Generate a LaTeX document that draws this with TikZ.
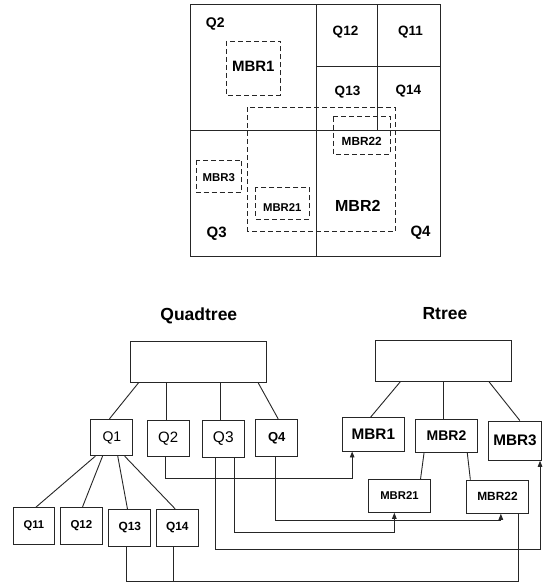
\documentclass[tikz,border=0pt]{standalone}
\usepackage{fontspec}
\setmainfont{Liberation Sans}
\usetikzlibrary{arrows.meta}
\begin{document}
\begin{tikzpicture}[x=1pt,y=-1pt,
  ln/.style={draw=black!85, line width=0.9pt},
  box/.style={ln, rectangle, inner sep=0pt, align=center},
  dbox/.style={draw=black!85, line width=0.9pt, dash pattern=on 5pt off 3pt},
  fb/.style={font=\bfseries\fontsize{#1}{#1}\selectfont},
  fr/.style={font=\fontsize{#1}{#1}\selectfont},
  txt/.style={inner sep=0pt},
  arr/.style={ln, -{Triangle[length=6pt,width=4.5pt]}},
]
\fill[white] (0,0) rectangle (542,585);
\useasboundingbox (0,0) rectangle (542,585);

% ---------- spatial plan ----------
\draw[ln] (190.7,4.7) rectangle (440,256.7);
\draw[ln] (316,4.7) -- (316,256.7);
\draw[ln] (190.7,130.5) -- (440,130.5);
\draw[ln] (377.7,4.7) -- (377.7,130.5);
\draw[ln] (316,66.7) -- (440,66.7);

\draw[dbox] (226,41) rectangle (280.3,95);
\draw[dbox] (247.7,107.3) rectangle (395.7,231);
\draw[dbox] (333.3,116.7) rectangle (390.3,154);
\draw[dbox] (196,160) rectangle (241.7,192.3);
\draw[dbox] (255.7,187.3) rectangle (309.3,219);

\node[txt, fb=14] (pq2) at (215.3,24.3) {Q2};
\node[txt, fb=15] (pmbr1) at (253.3,66) {MBR1};
\node[txt, fb=13.5] (pq12) at (345.5,32) {Q12};
\node[txt, fb=13.5] (pq11) at (410.5,32.3) {Q11};
\node[txt, fb=13.5] (pq13) at (347.5,92) {Q13};
\node[txt, fb=13.5] (pq14) at (408.3,90.7) {Q14};
\node[txt, fb=11.8] (pmbr22) at (361.7,141.7) {MBR22};
\node[txt, fb=11.4] (pmbr3) at (218.8,177.3) {MBR3};
\node[txt, fb=11.3] (pmbr21) at (282.3,207.3) {MBR21};
\node[txt, fb=15] (pq3) at (216.7,233.3) {Q3};
\node[txt, fb=16] (pmbr2) at (357.8,205.7) {MBR2};
\node[txt, fb=15] (pq4) at (420.5,232.3) {Q4};

% ---------- titles ----------
\node[txt, fb=17.5] (tq) at (198.8,316) {Quadtree};
\node[txt, fb=17.5] (tr) at (444.9,313.3) {Rtree};

% ---------- tree nodes ----------
\node[box, minimum width=135.9pt, minimum height=40.6pt] (qroot) at (198.25,362) {};
\node[box, minimum width=135.9pt, minimum height=40.3pt] (rroot) at (443.35,360.85) {};

\node[box, minimum width=41.9pt, minimum height=36.4pt, fr=14] (q1) at (111.85,437.5) {Q1};
\node[box, minimum width=41.8pt, minimum height=36.7pt, fr=15] (q2) at (168.2,438.35) {Q2};
\node[box, minimum width=42.2pt, minimum height=37pt, fr=15.5] (q3) at (223.3,438.8) {Q3};
\node[box, minimum width=41.8pt, minimum height=37pt, fb=13] (q4) at (276.7,437.8) {Q4};

\node[box, minimum width=62.3pt, minimum height=33.3pt, fb=15.3] (mbr1) at (373.35,434.35) {MBR1};
\node[box, minimum width=62.6pt, minimum height=33pt, fb=14] (mbr2) at (446.5,435.8) {MBR2};
\node[box, minimum width=53pt, minimum height=39.3pt, fb=15.3] (mbr3) at (515,440.65) {MBR3};

\node[box, minimum width=61.9pt, minimum height=33pt, fb=11.3] (mbr21) at (399.45,495.8) {MBR21};
\node[box, minimum width=61.5pt, minimum height=33.3pt, fb=11.9] (mbr22) at (497.45,496.65) {MBR22};

\node[box, minimum width=41.5pt, minimum height=36.6pt, fb=11.2] (q11) at (33.85,526) {Q11};
\node[box, minimum width=41.8pt, minimum height=37pt, fb=11.5] (q12) at (81.4,525.8) {Q12};
\node[box, minimum width=41.8pt, minimum height=36.7pt, fb=11.9] (q13) at (129.8,527.65) {Q13};
\node[box, minimum width=42.1pt, minimum height=36.7pt, fb=11.9] (q14) at (177.35,527.65) {Q14};

% ---------- tree edges ----------
\draw[ln] ([xshift=8.7pt]qroot.south west) -- ([xshift=19pt]q1.north west);
\draw[ln] ([xshift=37pt]qroot.south west) -- ([xshift=20pt]q2.north west);
\draw[ln] ([xshift=90.9pt]qroot.south west) -- ([xshift=19pt]q3.north west);
\draw[ln] ([xshift=128.3pt]qroot.south west) -- ([xshift=22.8pt]q4.north west);

\draw[ln] ([xshift=25.6pt]rroot.south west) -- ([xshift=28.8pt]mbr1.north west);
\draw[ln] ([xshift=68.5pt]rroot.south west) -- ([xshift=28.7pt]mbr2.north west);
\draw[ln] ([xshift=113.8pt]rroot.south west) -- ([xshift=31.8pt]mbr3.north west);

\draw[ln] ([xshift=9.3pt]mbr2.south west) -- ([xshift=52.5pt]mbr21.north west);
\draw[ln] ([xshift=52.5pt]mbr2.south west) -- ([xshift=4.1pt]mbr22.north west);

\draw[ln] ([xshift=4.9pt]q1.south west) -- ([xshift=23.2pt]q11.north west);
\draw[ln] ([xshift=12.1pt]q1.south west) -- ([xshift=22.5pt]q12.north west);
\draw[ln] ([xshift=27.3pt]q1.south west) -- ([xshift=19pt]q13.north west);
\draw[ln] ([xshift=34.2pt]q1.south west) -- ([xshift=19.3pt]q14.north west);

% ---------- cross connectors ----------
\draw[arr] ([xshift=18.6pt]q2.south west) -- ++(0,21) -| ([xshift=10.4pt]mbr1.south west);
\draw[arr] ([xshift=20.1pt]q4.south west) -- ++(0,64) -| ([xshift=34.6pt]mbr22.south west);
\draw[arr] ([xshift=32.2pt]q3.south west) -- ++(0,75) -| ([xshift=26.3pt]mbr21.south west);
\draw[arr] ([xshift=13.2pt]q3.south west) -- ++(0,92) -| ([xshift=52pt]mbr3.south west);
\draw[ln] ([xshift=18pt]q13.south west) -- ++(0,35) -| ([xshift=52.5pt]mbr22.south west);
\draw[ln] ([xshift=17.9pt]q14.south west) -- ++(0,35);
\end{tikzpicture}
\end{document}
